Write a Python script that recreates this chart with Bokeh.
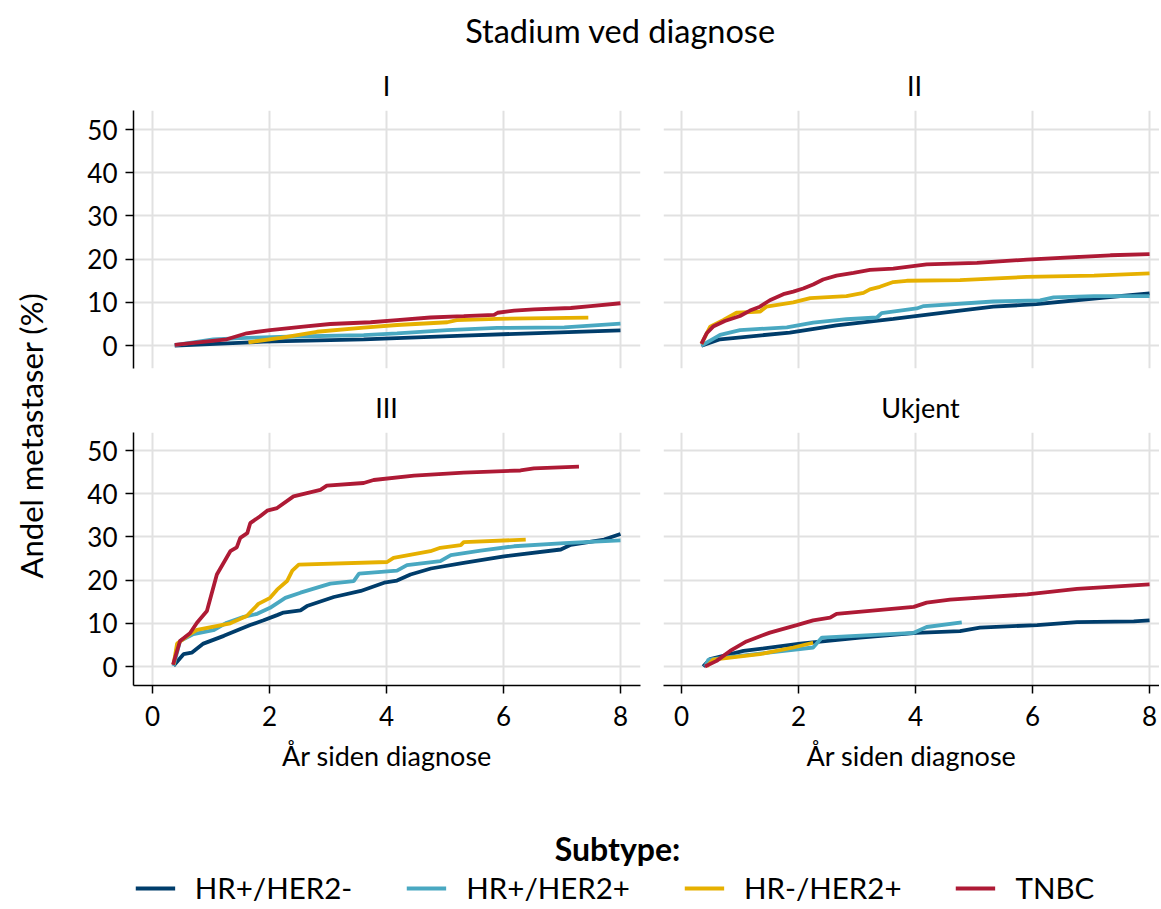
from math import pi
from bokeh.plotting import figure
from bokeh.layouts import row, column
from bokeh.models import Range1d, FixedTicker, Grid, LinearAxis, Legend, LegendItem
from bokeh.core.properties import value
from bokeh.embed import file_html
from bokeh.resources import INLINE

FONT = "Lato"

# ---------------- data ----------------
subtypes = ["HR+/HER2-", "HR+/HER2+", "HR-/HER2+", "TNBC"]
colors = ["#003d6b", "#49a8c1", "#e6b000", "#ae1a35"]
stages = ["I", "II", "III", "Ukjent"]
main_title = "Stadium ved diagnose"
y_title = "Andel metastaser (%)"
x_title = "År siden diagnose"
legend_title = "Subtype:"
x_ticks = [0, 2, 4, 6, 8]
y_ticks = [0, 10, 20, 30, 40, 50]

# Stage I
I_hrp_her2n_x = [0.38, 1.9, 3.61, 5.32, 6.47, 8.0]
I_hrp_her2n_y = [0.0, 0.9, 1.46, 2.3, 2.85, 3.5]
I_hrp_her2p_x = [0.38, 1.04, 1.61, 2.47, 3.61, 4.18, 5.04, 5.89, 7.04, 8.0]
I_hrp_her2p_y = [0.1, 1.46, 1.77, 2.1, 2.4, 2.85, 3.6, 4.1, 4.2, 5.1]
I_hrn_her2p_x = [1.64, 2.19, 2.81, 3.61, 4.18, 5.04, 5.2, 5.89, 7.45]
I_hrn_her2p_y = [0.77, 1.77, 3.2, 4.15, 4.77, 5.4, 5.9, 6.2, 6.45]
I_tnbc_x = [0.38, 1.27, 1.61, 2.01, 2.58, 3.04, 3.73, 4.18, 4.75, 5.32, 5.84, 5.9, 6.18, 6.52, 7.15, 7.49, 8.0]
I_tnbc_y = [0.15, 1.46, 2.85, 3.6, 4.4, 5.0, 5.4, 5.9, 6.5, 6.8, 7.1, 7.6, 8.1, 8.4, 8.7, 9.15, 9.8]

# Stage II
II_hrp_her2n_x = [0.34, 0.66, 1.85, 2.65, 3.62, 4.76, 5.33, 6.07, 7.05, 8.0]
II_hrp_her2n_y = [0.0, 1.46, 3.0, 4.7, 6.2, 8.1, 9.0, 9.6, 10.9, 12.1]
II_hrp_her2p_x = [0.34, 0.66, 1.0, 1.8, 2.25, 2.82, 3.34, 3.42, 4.02, 4.14, 5.33, 6.13, 6.36, 7.05, 8.0]
II_hrp_her2p_y = [0.0, 2.5, 3.6, 4.2, 5.3, 6.1, 6.5, 7.5, 8.6, 9.15, 10.2, 10.45, 11.15, 11.45, 11.45]
II_hrn_her2p_x = [0.34, 0.49, 0.71, 0.94, 1.34, 1.45, 1.91, 2.2, 2.82, 3.11, 3.22, 3.39, 3.62, 3.85, 4.76, 5.9, 7.05, 8.0]
II_hrn_her2p_y = [0.4, 4.4, 5.9, 7.6, 7.85, 9.0, 10.0, 11.0, 11.45, 12.2, 13.0, 13.6, 14.7, 15.0, 15.15, 15.9, 16.2, 16.7]
II_tnbc_x = [0.34, 0.43, 0.54, 0.74, 1.0, 1.17, 1.34, 1.51, 1.74, 1.91, 2.08, 2.25, 2.42, 2.65, 2.94, 3.22, 3.62, 4.19, 5.05, 5.9, 7.33, 8.0]
II_tnbc_y = [0.4, 2.85, 4.4, 5.7, 6.85, 8.1, 9.0, 10.5, 11.9, 12.5, 13.2, 14.15, 15.3, 16.2, 16.85, 17.5, 17.8, 18.8, 19.15, 19.9, 20.9, 21.15]

# Stage III
III_hrp_her2n_x = [0.36, 0.53, 0.67, 0.87, 1.22, 1.67, 1.9, 2.13, 2.24, 2.53, 2.64, 3.1, 3.56, 3.96, 4.18, 4.41, 4.76, 5.32, 6.01, 6.98, 7.15, 7.72, 8.0]
III_hrp_her2n_y = [0.15, 2.85, 3.2, 5.3, 7.1, 9.6, 10.7, 11.9, 12.5, 13.0, 14.0, 16.1, 17.5, 19.4, 19.9, 21.3, 22.7, 24.0, 25.5, 27.1, 28.2, 29.4, 30.7]
III_hrp_her2p_x = [0.36, 0.47, 0.7, 1.04, 1.27, 1.56, 1.79, 2.01, 2.27, 2.53, 3.04, 3.44, 3.53, 4.18, 4.35, 4.92, 5.1, 5.61, 6.18, 7.04, 8.0]
III_hrp_her2p_y = [0.15, 5.9, 7.5, 8.4, 10.15, 11.5, 12.2, 13.6, 15.9, 17.1, 19.2, 19.8, 21.5, 22.2, 23.5, 24.4, 25.8, 26.85, 27.85, 28.6, 29.2]
III_hrn_her2p_x = [0.36, 0.42, 0.64, 0.76, 1.33, 1.61, 1.81, 2.01, 2.13, 2.3, 2.39, 2.5, 4.01, 4.12, 4.75, 4.92, 5.27, 5.32, 6.38]
III_hrn_her2p_y = [0.5, 5.3, 7.5, 8.5, 10.0, 11.7, 14.5, 15.9, 17.8, 19.8, 22.2, 23.6, 24.2, 25.15, 26.7, 27.5, 28.1, 28.8, 29.4]
III_tnbc_x = [0.35, 0.47, 0.64, 0.76, 0.93, 1.1, 1.33, 1.44, 1.5, 1.62, 1.67, 1.84, 1.96, 2.13, 2.41, 2.87, 2.98, 3.61, 3.78, 4.47, 5.32, 6.29, 6.52, 7.29]
III_tnbc_y = [0.4, 5.9, 7.7, 10.15, 12.85, 21.3, 26.7, 27.6, 29.8, 30.9, 33.2, 34.8, 36.1, 36.7, 39.4, 40.9, 41.9, 42.5, 43.2, 44.2, 44.9, 45.4, 45.9, 46.3]

# Stage unknown
U_hrp_her2n_x = [0.37, 0.49, 1.06, 2.03, 3.05, 4.02, 4.76, 5.1, 6.08, 6.76, 7.73, 8.0]
U_hrp_her2n_y = [0.0, 1.7, 3.6, 5.3, 6.7, 7.8, 8.2, 9.0, 9.6, 10.3, 10.45, 10.7]
U_hrp_her2p_x = [0.4, 0.46, 0.77, 2.25, 2.4, 3.97, 4.19, 4.79]
U_hrp_her2p_y = [0.0, 1.6, 2.1, 4.4, 6.7, 7.8, 9.15, 10.2]
U_hrn_her2p_x = [0.43, 0.54, 1.34, 1.91, 2.25]
U_hrn_her2p_y = [0.0, 1.6, 2.85, 4.4, 5.5]
U_tnbc_x = [0.4, 0.6, 0.83, 1.11, 1.51, 1.97, 2.25, 2.54, 2.65, 3.97, 4.19, 4.59, 5.91, 6.76, 8.0]
U_tnbc_y = [0.0, 1.3, 3.6, 5.8, 7.85, 9.6, 10.7, 11.3, 12.2, 13.8, 14.8, 15.5, 16.7, 18.0, 19.0]

series_I = [(I_hrp_her2n_x, I_hrp_her2n_y), (I_hrp_her2p_x, I_hrp_her2p_y),
            (I_hrn_her2p_x, I_hrn_her2p_y), (I_tnbc_x, I_tnbc_y)]
series_II = [(II_hrp_her2n_x, II_hrp_her2n_y), (II_hrp_her2p_x, II_hrp_her2p_y),
             (II_hrn_her2p_x, II_hrn_her2p_y), (II_tnbc_x, II_tnbc_y)]
series_III = [(III_hrp_her2n_x, III_hrp_her2n_y), (III_hrp_her2p_x, III_hrp_her2p_y),
              (III_hrn_her2p_x, III_hrn_her2p_y), (III_tnbc_x, III_tnbc_y)]
series_U = [(U_hrp_her2n_x, U_hrp_her2n_y), (U_hrp_her2p_x, U_hrp_her2p_y),
            (U_hrn_her2p_x, U_hrn_her2p_y), (U_tnbc_x, U_tnbc_y)]

# ---------------- styling helpers ----------------
GRID_COLOR = "#e1e1e1"
TICK_FS = "26px"
LINE_W = 3.8


def style_axis(ax):
    ax.axis_line_color = "black"
    ax.axis_line_width = 1.5
    ax.major_tick_line_color = "black"
    ax.major_tick_line_width = 1.5
    ax.major_tick_out = 8
    ax.major_tick_in = 0
    ax.minor_tick_out = 0
    ax.minor_tick_in = 0
    ax.major_label_text_font = FONT
    ax.major_label_text_font_size = TICK_FS
    ax.major_label_text_color = "black"


def panel(width, height, xr, yr, left_axis, bottom_axis, mbl, mbr, mbb, series):
    p = figure(width=width, height=height, x_range=Range1d(*xr), y_range=Range1d(*yr),
               x_axis_location=None, y_axis_location=None,
               output_backend="svg", toolbar_location=None,
               min_border_left=mbl, min_border_right=mbr,
               min_border_top=0, min_border_bottom=mbb)
    p.outline_line_color = None
    p.center = []
    p.add_layout(Grid(dimension=0, ticker=FixedTicker(ticks=x_ticks),
                      grid_line_color=GRID_COLOR, grid_line_width=2), "center")
    p.add_layout(Grid(dimension=1, ticker=FixedTicker(ticks=y_ticks),
                      grid_line_color=GRID_COLOR, grid_line_width=2), "center")
    if left_axis:
        ax = LinearAxis(ticker=FixedTicker(ticks=y_ticks))
        style_axis(ax)
        ax.major_label_standoff = 8
        p.add_layout(ax, "left")
    if bottom_axis:
        ax = LinearAxis(ticker=FixedTicker(ticks=x_ticks), axis_label=x_title)
        style_axis(ax)
        ax.major_label_standoff = 12
        ax.axis_label_standoff = 10
        ax.axis_label_text_font = FONT
        ax.axis_label_text_font_size = "27px"
        ax.axis_label_text_font_style = "normal"
        ax.axis_label_text_color = "black"
        p.add_layout(ax, "below")
    for (xs, ys), c in zip(series, colors):
        p.line(xs, ys, line_color=c, line_width=LINE_W)
    return p


def blank(width, height):
    p = figure(width=width, height=height, x_range=Range1d(0, width), y_range=Range1d(0, height),
               x_axis_location=None, y_axis_location=None,
               output_backend="svg", toolbar_location=None, min_border=0)
    p.outline_line_color = None
    p.center = []
    return p


LEFT_W = 70
RIGHT_W = 1089
TOP_RANGE = (-5.3, 54.4)
BOT_RANGE = (-4.4, 54.2)
XR_LEFT = (-0.325, 8.342)
XR_RIGHT = (-0.308, 8.17)

# header with main title and strip labels of first row
strip1 = blank(RIGHT_W, 110)
strip1.text(x=[550], y=[80], text=[main_title], text_font=value(FONT),
            text_font_size=value("32.5px"), text_align="center", text_baseline="middle",
            text_color="black")
strip1.text(x=[316, 844], y=[25, 25], text=[stages[0], stages[1]], text_font=value(FONT),
            text_font_size=value("27px"), text_align="center", text_baseline="middle",
            text_color="black")

pI = panel(581, 278, XR_LEFT, TOP_RANGE, True, False, 63, 11, 20, series_I)
pII = panel(508, 278, XR_RIGHT, TOP_RANGE, False, False, 12, 0, 20, series_II)

strip2 = blank(RIGHT_W, 44)
strip2.text(x=[316, 850], y=[25, 25], text=[stages[2], stages[3]], text_font=value(FONT),
            text_font_size=value("27px"), text_align="center", text_baseline="middle",
            text_color="black")

pIII = panel(581, 358, XR_LEFT, BOT_RANGE, True, True, 63, 11, 105, series_III)
pIV = panel(508, 358, XR_RIGHT, BOT_RANGE, False, True, 12, 0, 105, series_U)

# legend
LEG_H = 115
lg = blank(RIGHT_W, LEG_H)
lg.text(x=[547], y=[57], text=[legend_title], text_font=value(FONT),
        text_font_size=value("32px"), text_font_style="bold", text_align="center",
        text_baseline="middle", text_color="black")
# legend-only renderers, kept outside the visible range of this blank panel
rs = [lg.line(x=[-50, -40], y=[-50, -40], line_color=c, line_width=4) for c in colors]
leg = Legend(items=[LegendItem(label=s, renderers=[r]) for s, r in zip(subtypes, rs)],
             orientation="horizontal", location="bottom_center",
             label_text_font=FONT, label_text_font_size="29.5px", label_text_color="black",
             glyph_width=40, glyph_height=20, label_standoff=20, spacing=54,
             padding=0, margin=0, border_line_color=None, background_fill_alpha=0)
lg.add_layout(leg, "center")

# y label column
TOTAL_H = 110 + 278 + 44 + 358 + LEG_H
ylab = blank(LEFT_W, TOTAL_H)
ylab.text(x=[30], y=[TOTAL_H - 435], text=[y_title], text_font=value(FONT),
          text_font_size=value("31px"), text_align="center", text_baseline="middle",
          angle=pi / 2, text_color="black")

layout = row(ylab, column(strip1, row(pI, pII), strip2, row(pIII, pIV), lg))

open("out.html", "w").write(file_html(layout, INLINE))
